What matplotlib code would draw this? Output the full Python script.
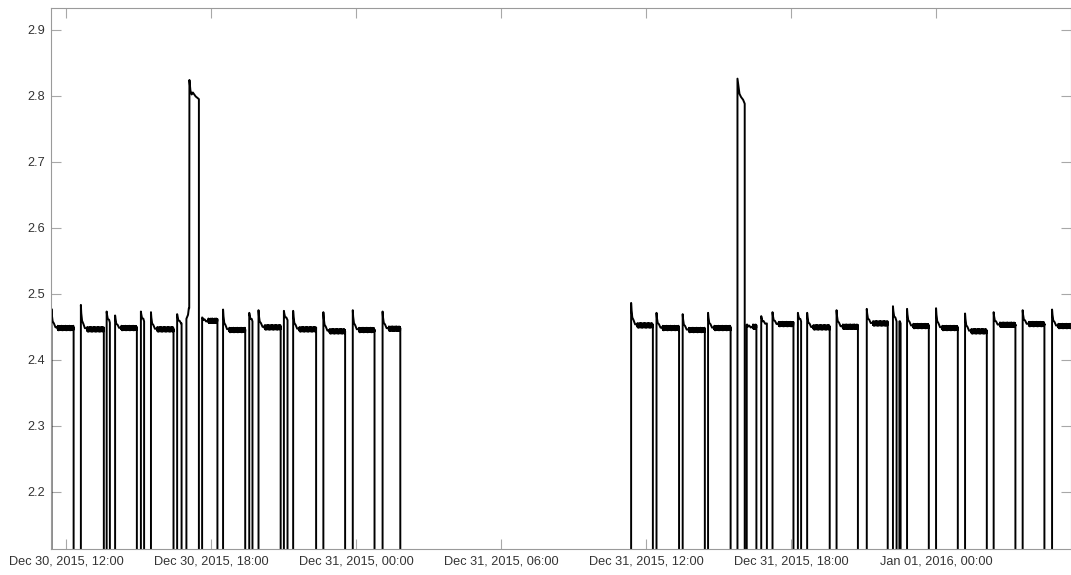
import numpy as np
import pandas as pd
import matplotlib
matplotlib.use("Agg")
import matplotlib.pyplot as plt
import matplotlib.dates as mdates

# --------------------------------------------------------
# Sensor voltage record: on-cycles (start, stop, start peak, settled level)
# --------------------------------------------------------
cycle_start = [
    "2015-12-30 11:24", "2015-12-30 12:37", "2015-12-30 13:41", "2015-12-30 14:02",
    "2015-12-30 15:06", "2015-12-30 15:31", "2015-12-30 16:36", "2015-12-30 17:38",
    "2015-12-30 18:30", "2015-12-30 19:35", "2015-12-30 19:58", "2015-12-30 21:01",
    "2015-12-30 21:24", "2015-12-30 22:39", "2015-12-30 23:52", "2015-12-31 01:06",
    "2015-12-31 11:23", "2015-12-31 12:26", "2015-12-31 13:31", "2015-12-31 14:34",
    "2015-12-31 16:10", "2015-12-31 16:46", "2015-12-31 17:14", "2015-12-31 18:17",
    "2015-12-31 18:40", "2015-12-31 19:53", "2015-12-31 21:08", "2015-12-31 22:13",
    "2015-12-31 22:29", "2015-12-31 22:48", "2016-01-01 00:00", "2016-01-01 01:12",
    "2016-01-01 02:23", "2016-01-01 03:35", "2016-01-01 04:48",
]
cycle_stop = [
    "2015-12-30 12:19", "2015-12-30 13:34", "2015-12-30 13:49", "2015-12-30 14:56",
    "2015-12-30 15:14", "2015-12-30 16:27", "2015-12-30 16:47", "2015-12-30 18:16",
    "2015-12-30 19:25", "2015-12-30 19:43", "2015-12-30 20:53", "2015-12-30 21:10",
    "2015-12-30 22:21", "2015-12-30 23:33", "2015-12-31 00:46", "2015-12-31 01:50",
    "2015-12-31 12:17", "2015-12-31 13:22", "2015-12-31 14:26", "2015-12-31 15:30",
    "2015-12-31 16:34", "2015-12-31 17:00", "2015-12-31 18:06", "2015-12-31 18:25",
    "2015-12-31 19:36", "2015-12-31 20:46", "2015-12-31 22:00", "2015-12-31 22:22",
    "2015-12-31 22:32", "2015-12-31 23:42", "2016-01-01 00:54", "2016-01-01 02:06",
    "2016-01-01 03:17", "2016-01-01 04:29", "2016-01-01 05:45",
]
cycle_peak = [
    2.477, 2.483, 2.473, 2.467, 2.473, 2.472, 2.469, 2.464,
    2.476, 2.471, 2.475, 2.474, 2.474, 2.472, 2.475, 2.473,
    2.486, 2.471, 2.469, 2.471, 2.453, 2.466, 2.472, 2.471,
    2.471, 2.475, 2.477, 2.481, 2.458, 2.477, 2.478, 2.470,
    2.472, 2.475, 2.476,
]
cycle_level = [
    2.448, 2.446, 2.456, 2.448, 2.458, 2.446, 2.455, 2.459,
    2.445, 2.458, 2.449, 2.460, 2.446, 2.443, 2.445, 2.447,
    2.452, 2.448, 2.445, 2.448, 2.450, 2.455, 2.454, 2.458,
    2.449, 2.450, 2.455, 2.458, 2.455, 2.451, 2.448, 2.443,
    2.453, 2.454, 2.451,
]

# two over-voltage events, read point by point
spike_a_time = ["2015-12-30 16:59", "2015-12-30 17:03", "2015-12-30 17:05", "2015-12-30 17:06",
                "2015-12-30 17:06:30", "2015-12-30 17:09", "2015-12-30 17:12", "2015-12-30 17:15",
                "2015-12-30 17:22", "2015-12-30 17:30"]
spike_a_value = [2.462, 2.468, 2.478, 2.478, 2.824, 2.808, 2.802, 2.805, 2.799, 2.795]

spike_b_time = ["2015-12-31 15:47", "2015-12-31 15:50", "2015-12-31 15:52", "2015-12-31 15:56",
                "2015-12-31 16:01", "2015-12-31 16:05"]
spike_b_value = [2.826, 2.812, 2.803, 2.798, 2.794, 2.788]

# settling after switch-on: minutes after start, share of overshoot still left
settle_min = [0.0, 1.0, 3.0, 6.0, 10.0, 15.0]
settle_share = [1.0, 0.62, 0.38, 0.2, 0.09, 0.03]

# sample-to-sample ripple on the settled level (V)
ripple = [0.0, 0.0030, -0.0021, 0.0025, -0.0032, 0.0012, -0.0017, 0.0034,
          -0.0027, 0.0007, 0.0023, -0.0035, 0.0016, -0.0009, 0.0028, -0.0024,
          0.0014, -0.0033, 0.0020, -0.0011, 0.0032, -0.0018, 0.0006, -0.0029]

off_value = 0.0

tick_times = pd.date_range("2015-12-30 12:00", "2016-01-01 00:00", freq="6h")
y_ticks = [2.2, 2.3, 2.4, 2.5, 2.6, 2.7, 2.8, 2.9]


def build_trace():
    """Stitch all on-cycles and spikes into one time series."""
    pieces = []
    for t0, t1, pk, lv in zip(cycle_start, cycle_stop, cycle_peak, cycle_level):
        t0, t1 = pd.Timestamp(t0), pd.Timestamp(t1)
        dur = (t1 - t0).total_seconds() / 60
        mins, vals = [0.0], [off_value]
        k = 0
        for m, s in zip(settle_min, settle_share):
            if m < dur:
                mins.append(m)
                wob = 0.0 if m == 0 else 0.5 * ripple[k % len(ripple)]
                vals.append(lv + s * (pk - lv) + wob)
                k += 1
        m = settle_min[-1] + 0.4
        while m < dur:
            mins.append(m)
            vals.append(lv + ripple[k % len(ripple)])
            m += 0.4
            k += 1
        mins += [dur, dur]
        vals += [lv, off_value]
        pieces.append((t0, mins, vals))

    for times, values in [(spike_a_time, spike_a_value), (spike_b_time, spike_b_value)]:
        t0 = pd.Timestamp(times[0])
        mins = [0.0] + [(pd.Timestamp(t) - t0).total_seconds() / 60 for t in times]
        mins.append(mins[-1])
        pieces.append((t0, mins, [off_value] + values + [off_value]))

    pieces.sort(key=lambda p: p[0])
    t_all, v_all = [], []
    for t0, mins, vals in pieces:
        t_all += [t0 + pd.Timedelta(minutes=m) for m in mins]
        v_all += vals
    return pd.Series(v_all, index=pd.DatetimeIndex(t_all))


trace = build_trace()

# --------------------------------------------------------
# Plot
# --------------------------------------------------------
plt.rcParams['font.family'] = ['Liberation Sans', 'DejaVu Sans']

fig = plt.figure(figsize=(10.71, 5.75), dpi=100)
ax = fig.add_axes([0.0473, 0.0452, 0.9527, 0.9408])

ax.plot(trace.index, trace.values, color='black', linewidth=1.4)

ax.set_xlim(pd.Timestamp("2015-12-30 11:22"), pd.Timestamp("2016-01-01 05:35"))
ax.set_ylim(2.113, 2.933)

ax.set_xticks(tick_times)
ax.xaxis.set_major_formatter(mdates.DateFormatter("%b %d, %Y, %H:%M"))
ax.set_yticks(y_ticks)
ax.set_yticklabels([f"{v:.1f}" for v in y_ticks])

ax.tick_params(direction='in', length=7, width=0.8, color='#a8a8a8',
               labelsize=9.2, labelcolor='#333333',
               top=True, right=True)
ax.tick_params(axis='x', pad=5)
ax.tick_params(axis='y', pad=4)
for side in ax.spines.values():
    side.set_color('#9a9a9a')
    side.set_linewidth(0.8)

fig.savefig("out.png", dpi=100)
